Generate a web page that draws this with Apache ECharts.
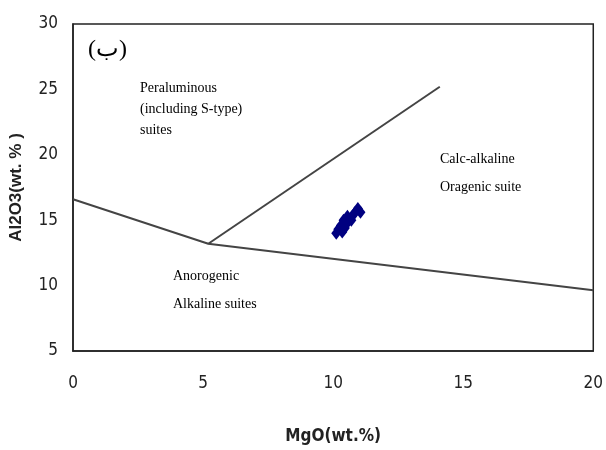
<!DOCTYPE html>
<html><head><meta charset="utf-8">
<script src="https://cdn.jsdelivr.net/npm/echarts@6/dist/echarts.min.js"></script>
<style>html,body{margin:0;padding:0;background:#fff}#c{width:606px;height:450px}</style>
</head><body><div id="c"></div>
<script>
// Boundary lines (MgO, Al2O3)
const lowerBoundary = [[0, 16.6], [5.2, 13.2], [20, 9.65]];
const upperBoundary = [[5.2, 13.2], [14.1, 25.2]];
// Sample points (MgO, Al2O3)
const samples = [
  [10.12, 14.0], [10.2, 14.3], [10.35, 14.1], [10.3, 14.6], [10.45, 14.4],
  [10.4, 15.0], [10.55, 14.8], [10.65, 15.1], [10.75, 15.35], [10.85, 15.6],
  [10.95, 15.9], [11.05, 15.6], [10.7, 15.0], [10.55, 15.3]
];
const xTicks = [0, 5, 10, 15, 20];
const yTicks = [5, 10, 15, 20, 25, 30];

const chart = echarts.init(document.getElementById('c'));
const condensed = '"DejaVu Sans Condensed", "Liberation Sans Narrow", "Liberation Sans", Arial';
const tickFont = {fontFamily: condensed, fontSize: 17, color: '#222'};
const serif = '"Liberation Serif", "DejaVu Serif", serif';
chart.setOption({
  animation: false,
  backgroundColor: '#fff',
  grid: {left: 72, top: 24, right: 10, bottom: 94, show: true, borderColor: '#222', borderWidth: 1.5},
  xAxis: {
    type: 'value', min: xTicks[0], max: xTicks[xTicks.length - 1], interval: 5,
    axisLine: {show: true, onZero: false, lineStyle: {color: '#222', width: 1.5}},
    axisTick: {show: false}, splitLine: {show: false},
    axisLabel: Object.assign({margin: 24}, tickFont),
    name: 'MgO(wt.%)', nameLocation: 'middle', nameGap: 77,
    nameTextStyle: {fontFamily: condensed, fontSize: 17, fontWeight: 'bold', color: '#222'}
  },
  yAxis: {
    type: 'value', min: yTicks[0], max: yTicks[yTicks.length - 1], interval: 5,
    axisLine: {show: true, onZero: false, lineStyle: {color: '#222', width: 1.5}},
    axisTick: {show: false}, splitLine: {show: false},
    axisLabel: Object.assign({margin: 15}, tickFont),
    name: 'Al2O3(wt. % )', nameLocation: 'middle', nameGap: 48, nameRotate: 90,
    nameTextStyle: {fontFamily: '"Liberation Sans", Arial', fontSize: 17, fontWeight: 'bold', color: '#222'}
  },
  series: [
    {type: 'line', data: lowerBoundary, symbol: 'none', lineStyle: {color: '#444', width: 2}, silent: true},
    {type: 'line', data: upperBoundary, symbol: 'none', lineStyle: {color: '#444', width: 2}, silent: true},
    {type: 'scatter', data: samples, symbol: 'diamond', symbolSize: [10, 13], itemStyle: {color: '#000080', opacity: 1}}
  ],
  graphic: [
    {type: 'text', left: 88, top: 38, style: {text: '(ب)', font: '24px ' + serif, fill: '#000'}},
    {type: 'text', left: 140, top: 78, style: {text: 'Peraluminous\n(including S-type)\nsuites', font: '14px ' + serif, lineHeight: 21, fill: '#000'}},
    {type: 'text', left: 440, top: 145, style: {text: 'Calc-alkaline\nOragenic suite', font: '14px ' + serif, lineHeight: 28, fill: '#000'}},
    {type: 'text', left: 173, top: 262, style: {text: 'Anorogenic\nAlkaline suites', font: '14px ' + serif, lineHeight: 28, fill: '#000'}}
  ]
});
</script></body></html>
